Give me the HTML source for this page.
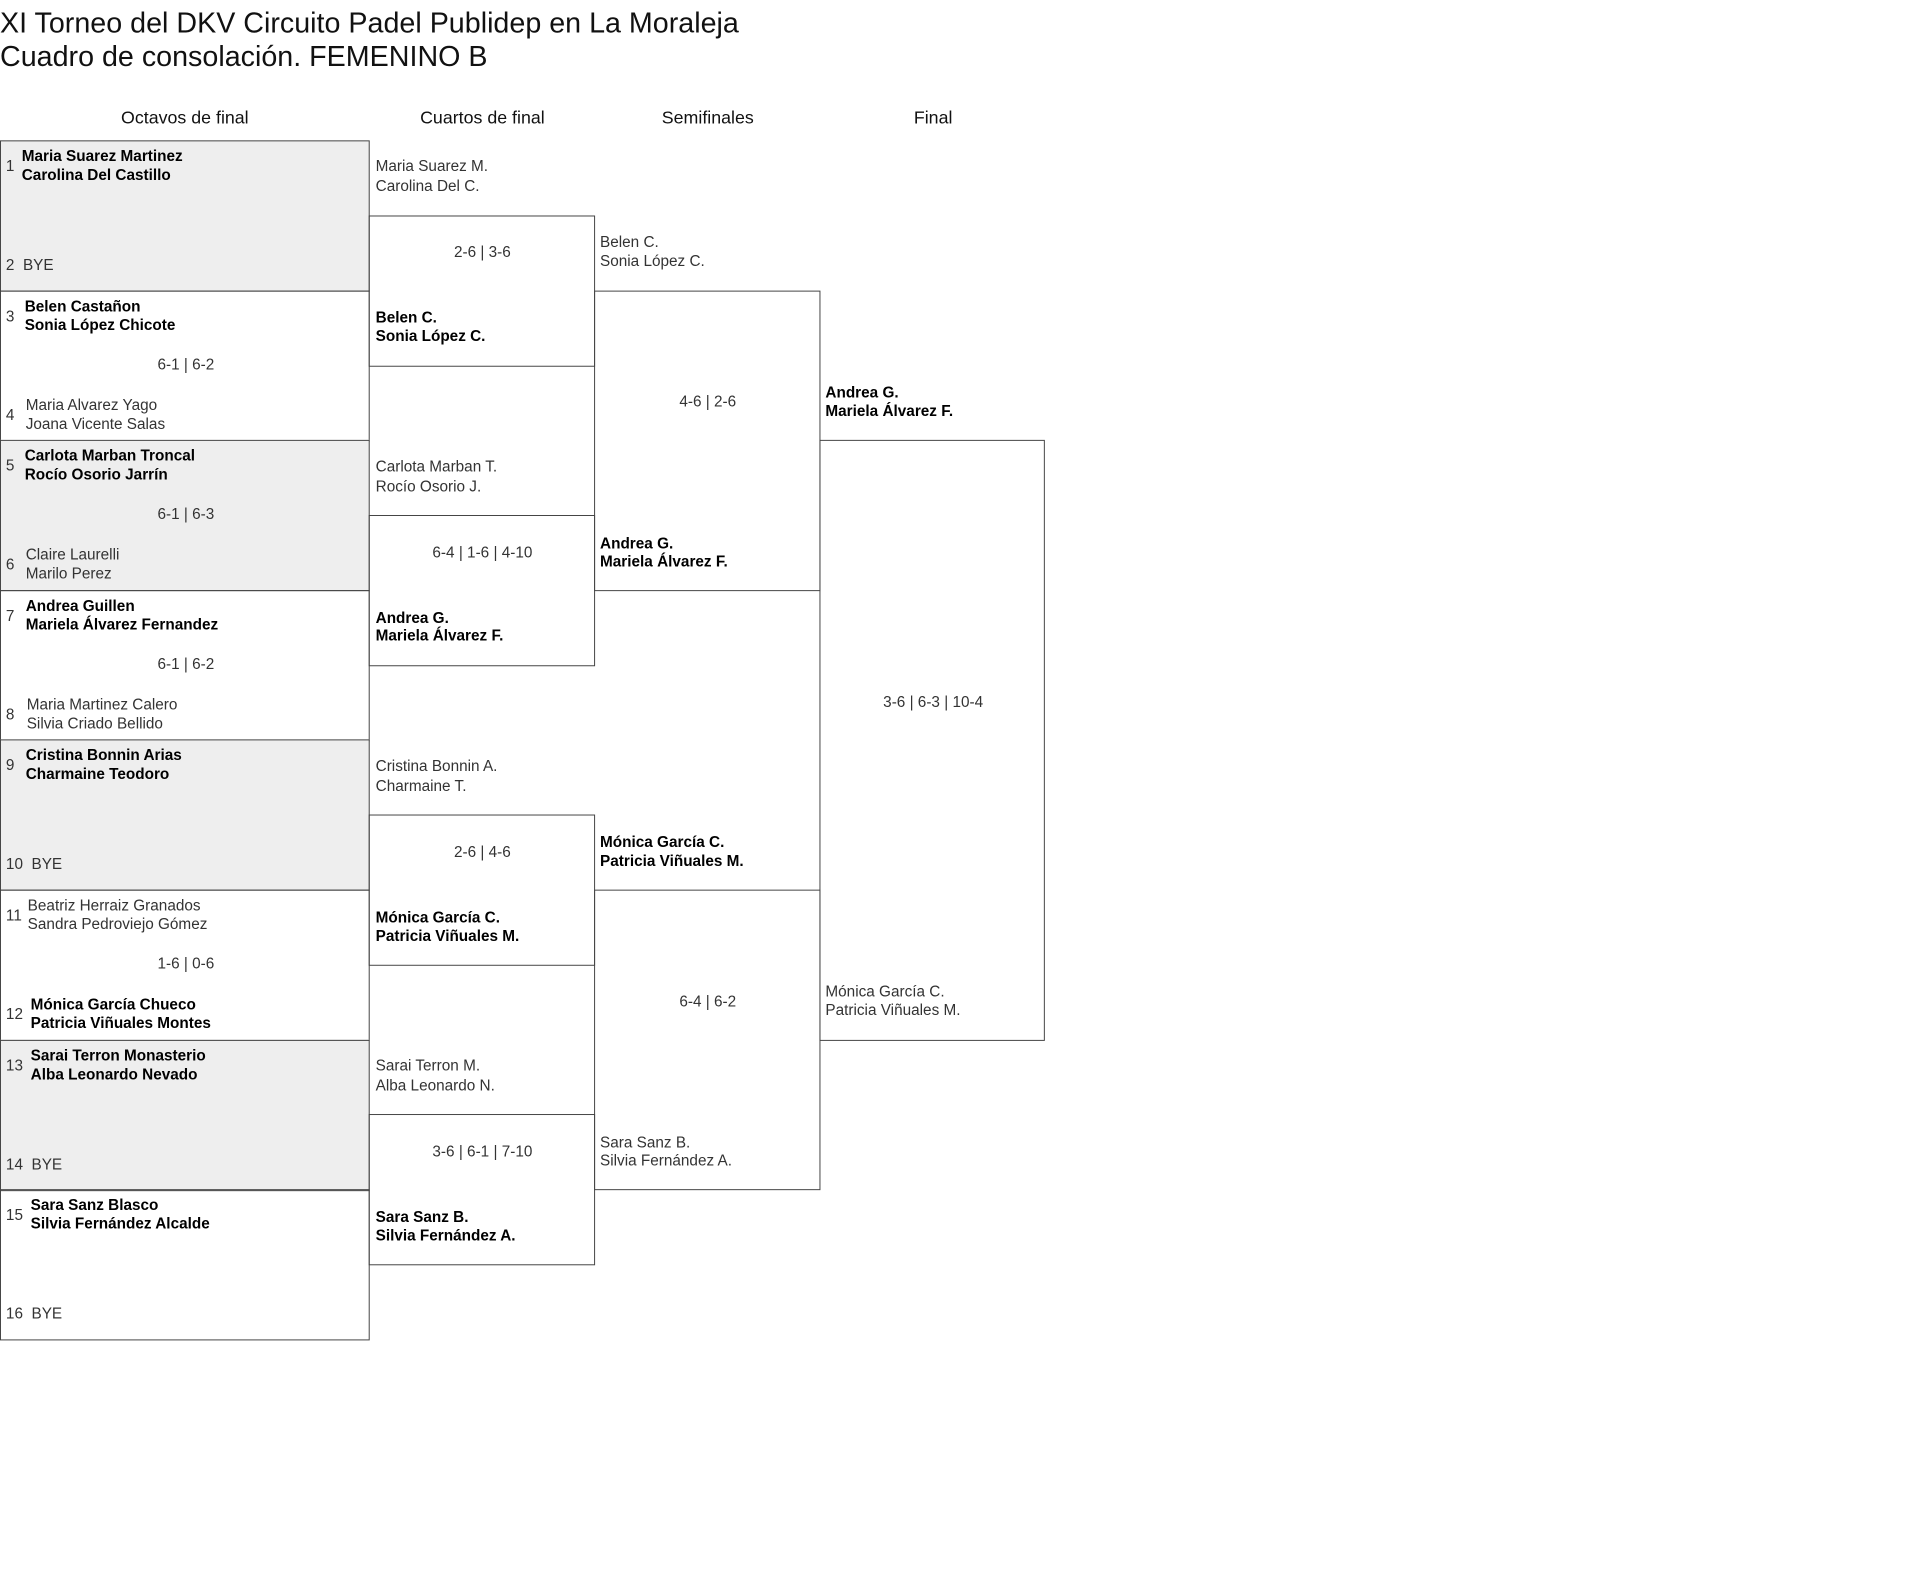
<!DOCTYPE html>
<html><head><meta charset="utf-8">
<style>
body{margin:0;width:1920px;height:1591px;background:#fff;position:relative;font-family:"Liberation Sans",sans-serif;color:#333;overflow:hidden}
#w{position:absolute;left:0;top:0;width:1942px;height:1610px;transform:scale(0.9885);transform-origin:0 0}
.a{position:absolute;white-space:nowrap;line-height:20px;font-size:15.5px}
.b{color:#000;font-weight:bold}
.h{position:absolute;font-size:18px;color:#111;transform:translateX(-50%);top:109px;white-space:nowrap}
.box{position:absolute;border:1px solid #444;box-sizing:border-box}
.blk{position:absolute;left:0;width:374px;height:153px;border:1px solid #444;box-sizing:border-box}
.g{background:#eee}
.c{transform:translateX(-50%)}
</style></head><body><div id="w">
<div class="a" style="left:0;top:7px;font-size:29px;line-height:34px;color:#111">XI Torneo del DKV Circuito Padel Publidep en La Moraleja</div>
<div class="a" style="left:0;top:41px;font-size:29px;line-height:34px;color:#111">Cuadro de consolación. FEMENINO B</div>

<div class="h" style="left:187px">Octavos de final</div>
<div class="h" style="left:488px">Cuartos de final</div>
<div class="h" style="left:716px">Semifinales</div>
<div class="h" style="left:944px">Final</div>

<div class="blk g" style="top:142px">
 <div class="a" style="left:5px;top:16px">1</div>
 <div class="a b" style="left:21px;top:6px">Maria Suarez Martinez</div>
 <div class="a b" style="left:21px;top:25px">Carolina Del Castillo</div>
 <div class="a" style="left:5px;top:116px">2&nbsp;&nbsp;BYE</div>
</div>
<div class="blk" style="top:294px">
 <div class="a" style="left:5px;top:16px">3</div>
 <div class="a b" style="left:24px;top:6px">Belen Castañon</div>
 <div class="a b" style="left:24px;top:25px">Sonia López Chicote</div>
 <div class="a c" style="left:187px;top:65px">6-1 | 6-2</div>
 <div class="a" style="left:5px;top:116px">4</div>
 <div class="a" style="left:25px;top:106px">Maria Alvarez Yago</div>
 <div class="a" style="left:25px;top:125px">Joana Vicente Salas</div>
</div>
<div class="blk g" style="top:445px">
 <div class="a" style="left:5px;top:16px">5</div>
 <div class="a b" style="left:24px;top:6px">Carlota Marban Troncal</div>
 <div class="a b" style="left:24px;top:25px">Rocío Osorio Jarrín</div>
 <div class="a c" style="left:187px;top:65px">6-1 | 6-3</div>
 <div class="a" style="left:5px;top:116px">6</div>
 <div class="a" style="left:25px;top:106px">Claire Laurelli</div>
 <div class="a" style="left:25px;top:125px">Marilo Perez</div>
</div>
<div class="blk" style="top:597px">
 <div class="a" style="left:5px;top:16px">7</div>
 <div class="a b" style="left:25px;top:6px">Andrea Guillen</div>
 <div class="a b" style="left:25px;top:25px">Mariela Álvarez Fernandez</div>
 <div class="a c" style="left:187px;top:65px">6-1 | 6-2</div>
 <div class="a" style="left:5px;top:116px">8</div>
 <div class="a" style="left:26px;top:106px">Maria Martinez Calero</div>
 <div class="a" style="left:26px;top:125px">Silvia Criado Bellido</div>
</div>
<div class="blk g" style="top:748px">
 <div class="a" style="left:5px;top:16px">9</div>
 <div class="a b" style="left:25px;top:6px">Cristina Bonnin Arias</div>
 <div class="a b" style="left:25px;top:25px">Charmaine Teodoro</div>
 <div class="a" style="left:5px;top:116px">10&nbsp;&nbsp;BYE</div>
</div>
<div class="blk" style="top:900px">
 <div class="a" style="left:5px;top:16px">11</div>
 <div class="a" style="left:27px;top:6px">Beatriz Herraiz Granados</div>
 <div class="a" style="left:27px;top:25px">Sandra Pedroviejo Gómez</div>
 <div class="a c" style="left:187px;top:65px">1-6 | 0-6</div>
 <div class="a" style="left:5px;top:116px">12</div>
 <div class="a b" style="left:30px;top:106px">Mónica García Chueco</div>
 <div class="a b" style="left:30px;top:125px">Patricia Viñuales Montes</div>
</div>
<div class="blk g" style="top:1052px">
 <div class="a" style="left:5px;top:16px">13</div>
 <div class="a b" style="left:30px;top:6px">Sarai Terron Monasterio</div>
 <div class="a b" style="left:30px;top:25px">Alba Leonardo Nevado</div>
 <div class="a" style="left:5px;top:116px">14&nbsp;&nbsp;BYE</div>
</div>
<div class="blk" style="top:1203px">
 <div class="a" style="left:5px;top:16px">15</div>
 <div class="a b" style="left:30px;top:6px">Sara Sanz Blasco</div>
 <div class="a b" style="left:30px;top:25px">Silvia Fernández Alcalde</div>
 <div class="a" style="left:5px;top:116px">16&nbsp;&nbsp;BYE</div>
</div>

<div class="box" style="left:373px;top:218px;width:229px;height:153px"></div>
<div class="box" style="left:373px;top:521px;width:229px;height:153px"></div>
<div class="box" style="left:373px;top:824px;width:229px;height:153px"></div>
<div class="box" style="left:373px;top:1127px;width:229px;height:153px"></div>
<div class="box" style="left:601px;top:294px;width:229px;height:304px"></div>
<div class="box" style="left:601px;top:900px;width:229px;height:304px"></div>
<div class="box" style="left:829px;top:445px;width:228px;height:608px"></div>

<div class="a" style="left:380px;top:159px">Maria Suarez M.</div>
<div class="a" style="left:380px;top:179px">Carolina Del C.</div>
<div class="a c" style="left:488px;top:246px">2-6 | 3-6</div>
<div class="a b" style="left:380px;top:312px">Belen C.</div>
<div class="a b" style="left:380px;top:331px">Sonia López C.</div>

<div class="a" style="left:380px;top:463px">Carlota Marban T.</div>
<div class="a" style="left:380px;top:483px">Rocío Osorio J.</div>
<div class="a c" style="left:488px;top:550px">6-4 | 1-6 | 4-10</div>
<div class="a b" style="left:380px;top:616px">Andrea G.</div>
<div class="a b" style="left:380px;top:634px">Mariela Álvarez F.</div>

<div class="a" style="left:380px;top:766px">Cristina Bonnin A.</div>
<div class="a" style="left:380px;top:786px">Charmaine T.</div>
<div class="a c" style="left:488px;top:853px">2-6 | 4-6</div>
<div class="a b" style="left:380px;top:919px">Mónica García C.</div>
<div class="a b" style="left:380px;top:938px">Patricia Viñuales M.</div>

<div class="a" style="left:380px;top:1069px">Sarai Terron M.</div>
<div class="a" style="left:380px;top:1089px">Alba Leonardo N.</div>
<div class="a c" style="left:488px;top:1156px">3-6 | 6-1 | 7-10</div>
<div class="a b" style="left:380px;top:1222px">Sara Sanz B.</div>
<div class="a b" style="left:380px;top:1241px">Silvia Fernández A.</div>

<div class="a" style="left:607px;top:236px">Belen C.</div>
<div class="a" style="left:607px;top:255px">Sonia López C.</div>
<div class="a c" style="left:716px;top:397px">4-6 | 2-6</div>
<div class="a b" style="left:607px;top:541px">Andrea G.</div>
<div class="a b" style="left:607px;top:559px">Mariela Álvarez F.</div>

<div class="a b" style="left:607px;top:843px">Mónica García C.</div>
<div class="a b" style="left:607px;top:862px">Patricia Viñuales M.</div>
<div class="a c" style="left:716px;top:1004px">6-4 | 6-2</div>
<div class="a" style="left:607px;top:1147px">Sara Sanz B.</div>
<div class="a" style="left:607px;top:1165px">Silvia Fernández A.</div>

<div class="a b" style="left:835px;top:388px">Andrea G.</div>
<div class="a b" style="left:835px;top:407px">Mariela Álvarez F.</div>
<div class="a c" style="left:944px;top:701px">3-6 | 6-3 | 10-4</div>
<div class="a" style="left:835px;top:994px">Mónica García C.</div>
<div class="a" style="left:835px;top:1013px">Patricia Viñuales M.</div>
</div></body></html>
